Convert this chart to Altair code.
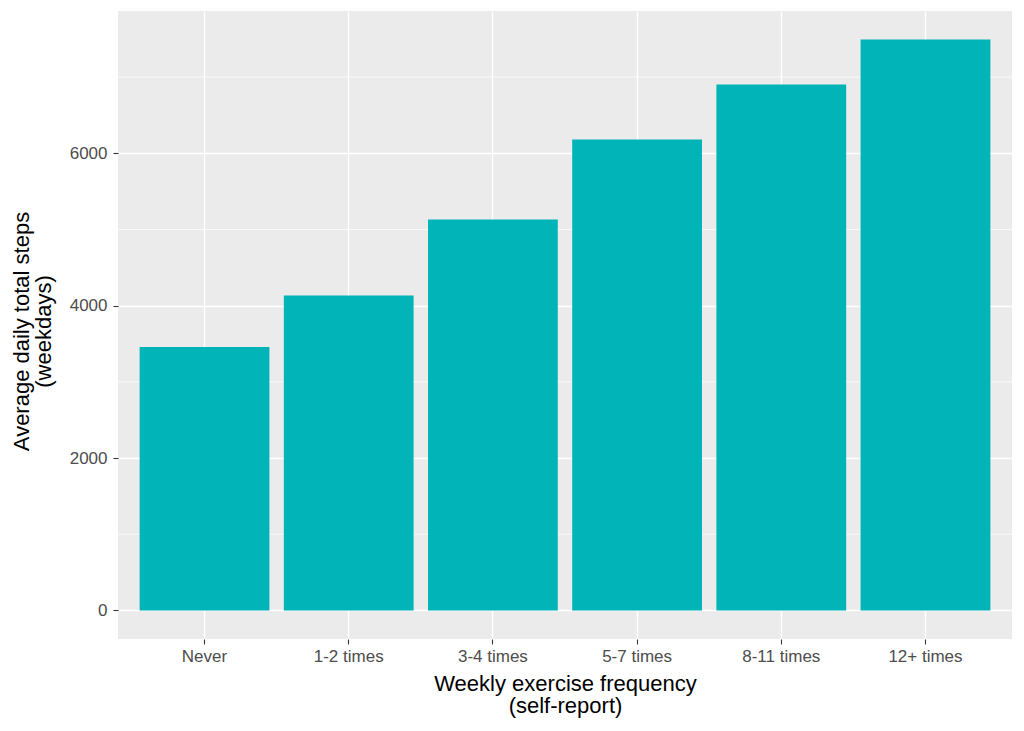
import altair as alt
import pandas as pd

categories = ["Never", "1-2 times", "3-4 times", "5-7 times", "8-11 times", "12+ times"]
steps = [3459, 4134, 5131, 6181, 6903, 7493]
major_ticks = [0, 2000, 4000, 6000]
minor_ticks = [1000, 3000, 5000, 7000]

df = pd.DataFrame({"freq": categories, "steps": steps})
minor_df = pd.DataFrame({"v": minor_ticks})

FONT = "Liberation Sans"

yscale = alt.Scale(domain=[-375, 7868], nice=False, zero=False)
xscale = alt.Scale(domain=categories, paddingInner=0.1, paddingOuter=0.15)

yaxis = alt.Axis(
    title=["Average daily total steps", "(weekdays)"],
    values=major_ticks,
    format="d",
    labelPadding=6,
    titleAngle=-90,
    titleAlign="center",
    titleBaseline="alphabetic",
    titleX=-90,
    titleY=320,
    titleLineHeight=22.5,
)

minor = alt.Chart(minor_df).mark_rule(color="white", strokeWidth=0.7).encode(
    y=alt.Y("v:Q", scale=yscale, axis=yaxis)
)

bars = alt.Chart(df).mark_bar(color="#00B4B8").encode(
    x=alt.X(
        "freq:N",
        scale=xscale,
        sort=categories,
        axis=alt.Axis(
            title=["Weekly exercise frequency", "(self-report)"],
            labelAngle=0,
            bandPosition=0.5,
            labelBaseline="alphabetic",
            labelPadding=17,
            titleBaseline="alphabetic",
            titleY=51,
            titleLineHeight=22,
        ),
    ),
    y=alt.Y("steps:Q", scale=yscale, axis=yaxis),
    y2=alt.datum(0),
)

chart = (
    alt.layer(minor, bars)
    .properties(
        width=894,
        height=628,
        autosize="none",
        padding={"left": 110, "top": 3, "right": 4, "bottom": 84},
    )
    .configure_view(fill="#EBEBEB", stroke=None)
    .configure_axis(
        domain=False,
        grid=True,
        gridColor="white",
        gridWidth=1.4,
        tickColor="#333333",
        tickSize=5,
        tickWidth=1.1,
        labelFont=FONT,
        labelFontSize=17,
        labelColor="#4D4D4D",
        titleFont=FONT,
        titleFontSize=22,
        titleColor="black",
        titleFontWeight="normal",
    )
)

chart.save("out.html", embed_options={"renderer": "svg", "actions": False})
